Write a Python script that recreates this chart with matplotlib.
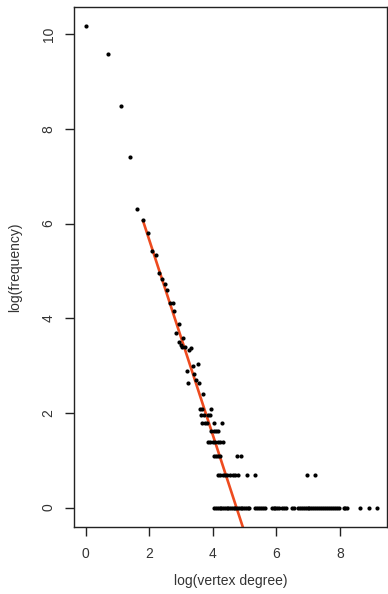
import numpy as np
import matplotlib
matplotlib.use("Agg")
import matplotlib.pyplot as plt

plt.rcParams['font.family'] = ['Liberation Sans', 'DejaVu Sans']

# upper (individually resolved) points: log(vertex degree), log(frequency)
x_upper = [0.00, 0.69, 1.10, 1.39, 1.61, 1.79, 1.95, 2.07, 2.20, 2.29, 2.40, 2.50,
           2.57, 2.66, 2.73, 2.78, 2.92, 2.84, 3.05, 2.94, 3.00, 3.03, 3.13, 3.26,
           3.31, 3.36, 3.52, 3.19, 3.42, 3.23, 3.47, 3.55, 3.68]
y_upper = [10.17, 9.59, 8.49, 7.40, 6.31, 6.08, 5.79, 5.41, 5.33, 4.95, 4.83, 4.73,
           4.60, 4.33, 4.33, 4.16, 3.88, 3.69, 3.58, 3.49, 3.44, 3.40, 3.40, 3.33,
           3.37, 3.00, 3.04, 2.89, 2.82, 2.64, 2.70, 2.63, 2.40]

# rows of low frequency (frequency count n -> log(n))
y_freq8, x_freq8 = 2.079, [3.58, 3.66, 3.94]
y_freq7, x_freq7 = 1.946, [3.63, 3.72, 3.84, 3.91]
y_freq6, x_freq6 = 1.792, [3.66, 3.74, 3.82, 4.03, 4.28]
y_freq5, x_freq5 = 1.609, [3.94, 4.03, 4.10, 4.17]
y_freq4, x_freq4 = 1.386, [3.84, 3.91, 3.99, 4.07, 4.15, 4.23, 4.31]
y_freq3, x_freq3 = 1.099, [4.02, 4.09, 4.17, 4.24, 4.77, 4.89]
y_freq2, x_freq2 = 0.693, [4.16, 4.23, 4.31, 4.38, 4.46, 4.54, 4.62, 4.70, 4.80,
                           5.08, 5.33, 6.95, 7.22]
y_freq1, x_freq1 = 0.0, [4.05, 4.10, 4.16, 4.21, 4.27, 4.32, 4.38, 4.43, 4.49, 4.54,
                         4.60, 4.65, 4.71, 4.76, 4.82, 4.87, 4.93, 4.98, 5.04, 5.09,
                         5.15,
                         5.34, 5.40, 5.46, 5.52, 5.58, 5.63,
                         5.85, 5.91, 5.97, 6.03, 6.09, 6.16, 6.23, 6.30,
                         6.48, 6.55,
                         6.68, 6.74, 6.80, 6.86, 6.92, 6.98, 7.04, 7.10, 7.16, 7.22,
                         7.28, 7.34, 7.41, 7.47, 7.53, 7.59, 7.65, 7.72, 7.78, 7.85,
                         7.91, 7.97,
                         8.12, 8.17, 8.22,
                         8.64, 8.90, 9.15]

# fitted power-law line
fit_intercept = 9.77
fit_slope = -2.06
fit_range = [1.79, 5.3]

xs = list(x_upper)
ys = list(y_upper)
for yv, xl in [(y_freq8, x_freq8), (y_freq7, x_freq7), (y_freq6, x_freq6),
               (y_freq5, x_freq5), (y_freq4, x_freq4), (y_freq3, x_freq3),
               (y_freq2, x_freq2), (y_freq1, x_freq1)]:
    xs += xl
    ys += [yv] * len(xl)

W, H = 388, 594
fig = plt.figure(figsize=(W / 100, H / 100), dpi=100)
L, R, T, B = 74, 386.7, 6.7, 527
ax = fig.add_axes([L / W, 1 - B / H, (R - L) / W, (B - T) / H])

ax.scatter(xs, ys, s=9, c='black', linewidths=0, zorder=3)
fx = np.array(fit_range)
ax.plot(fx, fit_intercept + fit_slope * fx, color='#EE4B1F', lw=1.9, zorder=2,
        solid_capstyle='butt')

ax.set_xlim(-0.37, 9.47)
ax.set_ylim(-0.41, 10.58)
ax.set_xticks([0, 2, 4, 6, 8])
ax.set_yticks([0, 2, 4, 6, 8, 10])

tc = '#333333'
for sp in ax.spines.values():
    sp.set_color('#222222')
    sp.set_linewidth(1.0)
ax.tick_params(direction='out', length=6.3, width=1.0, color='#222222',
               labelsize=10, labelcolor=tc)
ax.tick_params(axis='x', pad=8)
ax.tick_params(axis='y', pad=7)
for lab in ax.get_yticklabels():
    lab.set_rotation(90)
    lab.set_va('center')

fig.text((L + R) / 2 / W, 1 - 581 / H, 'log(vertex degree)', ha='center', va='center',
         fontsize=10, color=tc)
fig.text(15 / W, 1 - (T + B) / 2 / H, 'log(frequency)', ha='center', va='center',
         rotation=90, fontsize=10, color=tc)

fig.savefig('out.png', dpi=100)
